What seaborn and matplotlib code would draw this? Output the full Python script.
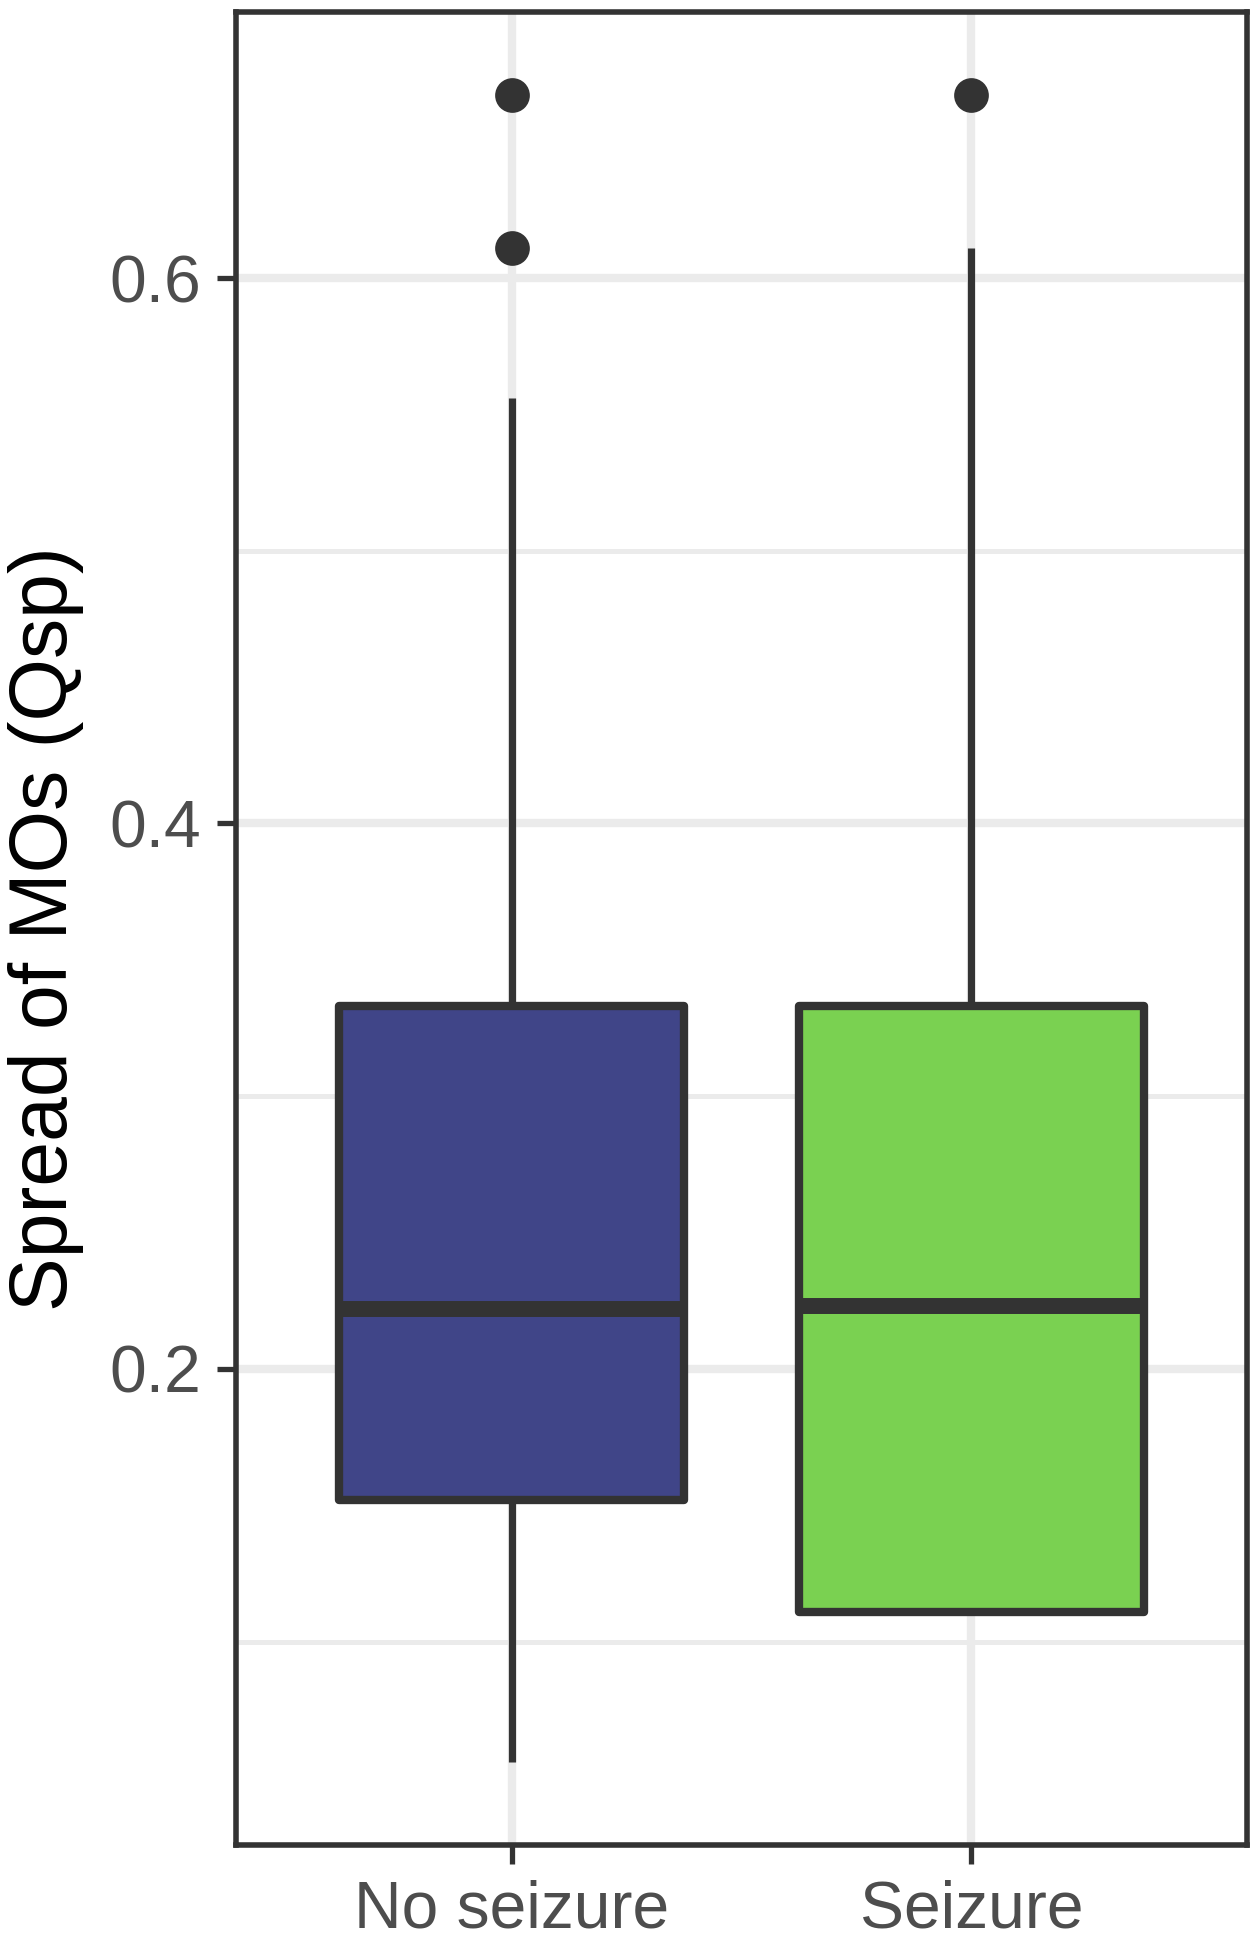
import numpy as np
import matplotlib
matplotlib.use("Agg")
import matplotlib.pyplot as plt
import seaborn as sns

# box summary values
groups = ["No seizure", "Seizure"]
box_colors = ["#404588", "#7AD151"]
q1 = [0.152, 0.111]
medians = [0.222, 0.223]
q3 = [0.333, 0.333]
whisker_low = [0.056, 0.111]
whisker_high = [0.556, 0.611]
outlier_group = ["No seizure", "No seizure", "Seizure"]
outlier_value = [0.611, 0.667, 0.667]

y_major = [0.2, 0.4, 0.6]
y_minor = [0.1, 0.3, 0.5]
y_label = "Spread of MOs (Qsp)"

sns.set_theme(style="white")
plt.rcParams['font.family'] = ['Liberation Sans', 'DejaVu Sans']

edge = "#333333"
grid_col = "#EBEBEB"

fig = plt.figure(figsize=(12.6, 19.39), dpi=100)
ax = fig.add_axes([0.1873, 0.0485, 0.8024, 0.9453])

stats = []
for i, g in enumerate(groups):
    stats.append({
        'label': g, 'q1': q1[i], 'med': medians[i], 'q3': q3[i],
        'whislo': whisker_low[i], 'whishi': whisker_high[i], 'fliers': []
    })

bp = ax.bxp(stats, positions=range(len(groups)), widths=0.75,
            patch_artist=True, showcaps=False, showfliers=False,
            boxprops=dict(edgecolor=edge, linewidth=6.0),
            medianprops=dict(color=edge, linewidth=11.5, solid_capstyle='butt'),
            whiskerprops=dict(color=edge, linewidth=5.2, solid_capstyle='butt'),
            zorder=2)
for patch, col in zip(bp['boxes'], box_colors):
    patch.set_facecolor(col)
    patch.set_joinstyle('round')

# outliers
sns.stripplot(x=outlier_group, y=outlier_value, order=groups, jitter=False,
              color=edge, size=25, linewidth=0, ax=ax, zorder=3)

# ggplot-like 5% expansion
lo = min(whisker_low)
hi = max(outlier_value)
pad = (hi - lo) * 0.05
ax.set_ylim(lo - pad, hi + pad)
ax.set_xlim(-0.6, len(groups) - 0.4)

ax.set_xticks(range(len(groups)))
ax.set_xticklabels(groups)
ax.set_yticks(y_major)
ax.set_yticklabels([f"{v:.1f}" for v in y_major])
ax.set_yticks(y_minor, minor=True)

ax.set_axisbelow(True)
ax.grid(True, which='major', color=grid_col, linewidth=6.0)
ax.grid(True, which='minor', axis='y', color=grid_col, linewidth=3.6)

ax.tick_params(axis='both', which='major', length=14, width=3.8, color=edge,
               labelcolor='#4D4D4D', labelsize=47.5, pad=11, direction='out')
ax.tick_params(axis='y', which='minor', length=0)
ax.tick_params(left=True, bottom=True)

for sp in ax.spines.values():
    sp.set_visible(True)
    sp.set_color(edge)
    sp.set_linewidth(4.0)

ax.set_xlabel("")
ax.set_ylabel(y_label, fontsize=58, color='black')
ax.yaxis.set_label_coords(-0.150, 0.5)

fig.savefig("out.png", dpi=100)
